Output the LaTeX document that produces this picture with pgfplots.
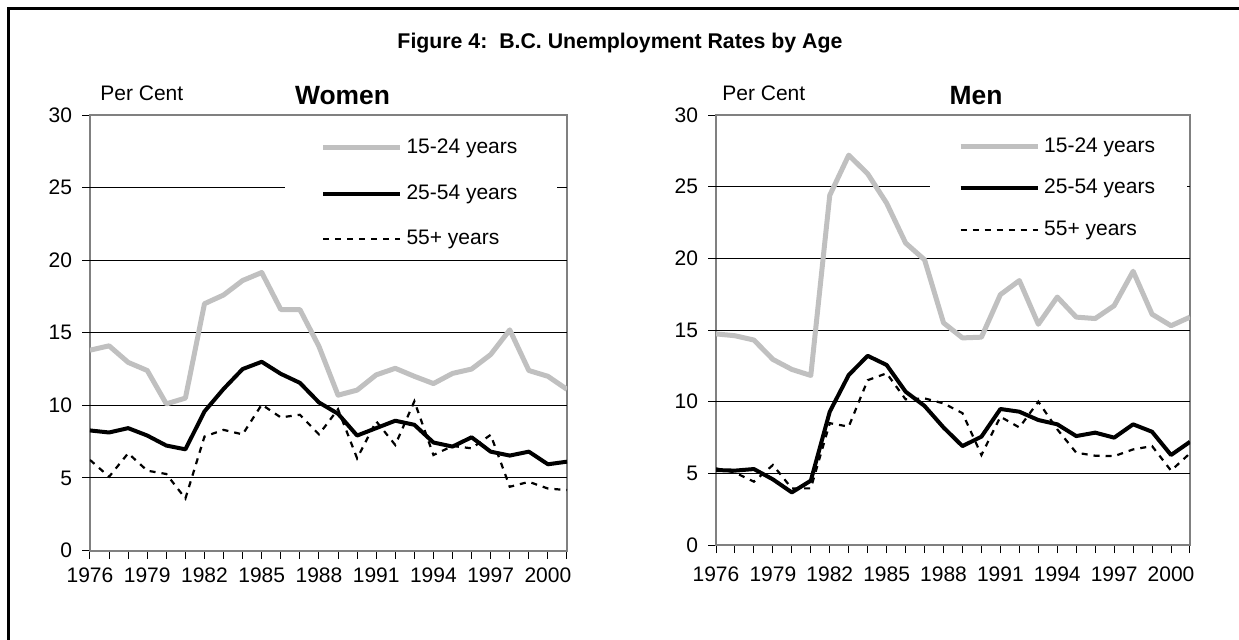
\documentclass[border=0pt]{standalone}
\usepackage{fontspec}
\setmainfont{Liberation Sans}
\usepackage{pgfplots}
\usepackage{pgfplotstable}
\pgfplotsset{compat=1.18}

\definecolor{lgray}{HTML}{C0C0C0}
\definecolor{fgray}{HTML}{808080}

\pgfplotstableread{
year a b c
1976 13.8 8.27 6.24
1977 14.1 8.13 5.08
1978 12.96 8.43 6.7
1979 12.4 7.92 5.5
1980 10.1 7.23 5.27
1981 10.5 6.97 3.58
1982 17.0 9.58 7.85
1983 17.6 11.13 8.31
1984 18.6 12.5 8.0
1985 19.15 13.0 10.05
1986 16.6 12.17 9.17
1987 16.6 11.55 9.35
1988 14.06 10.2 8.0
1989 10.7 9.42 9.73
1990 11.05 7.92 6.35
1991 12.1 8.43 8.9
1992 12.55 8.94 7.27
1993 12.0 8.66 10.28
1994 11.5 7.44 6.58
1995 12.2 7.16 7.2
1996 12.5 7.8 7.04
1997 13.5 6.81 7.97
1998 15.2 6.54 4.39
1999 12.4 6.81 4.73
2000 12.0 5.94 4.27
2001 11.1 6.12 4.16
}\women

\pgfplotstableread{
year a b c
1976 14.73 5.23 5.35
1977 14.6 5.19 5.05
1978 14.3 5.3 4.42
1979 12.95 4.58 5.58
1980 12.25 3.67 3.95
1981 11.83 4.49 3.95
1982 24.4 9.3 8.5
1983 27.2 11.86 8.26
1984 25.9 13.2 11.5
1985 23.85 12.56 11.98
1986 21.07 10.7 10.16
1987 19.9 9.7 10.23
1988 15.5 8.2 9.88
1989 14.45 6.9 9.2
1990 14.5 7.56 6.28
1991 17.47 9.49 8.95
1992 18.45 9.3 8.2
1993 15.4 8.72 10.0
1994 17.3 8.42 8.07
1995 15.9 7.6 6.44
1996 15.8 7.84 6.23
1997 16.7 7.49 6.2
1998 19.1 8.42 6.67
1999 16.1 7.9 6.9
2000 15.3 6.28 5.19
2001 15.9 7.2 6.4
}\men

\pgfplotsset{
  bcstyle/.style={
    scale only axis,
    xmin=1976, xmax=2001, ymin=0, ymax=30,
    xtick={1976,1979,...,2000},
    minor xtick={1976,...,2001},
    ytick={0,5,...,30},
    extra y ticks={5,10,15,20,25},
    extra y tick labels={},
    extra y tick style={grid=major},
    grid style={black, line width=0.5pt},
    tick align=outside,
    xtick pos=bottom, ytick pos=left,
    major tick length=4pt, minor tick length=4pt,
    tick style={black, line width=0.5pt},
    axis line style={fgray, line width=1pt},
    tick label style={font=\fontsize{10.5}{12}\selectfont},
    yticklabel style={xshift=-1.5pt},
    /pgf/number format/assume math mode=true,
    /pgf/number format/1000 sep={},
    legend cell align=left,
    legend style={draw=none, fill=white, font=\fontsize{10.5}{12}\selectfont, anchor=north west},
    legend image code/.code={\draw[##1] (0pt,0pt) -- (38.5pt,0pt);},
  },
  s1/.style={lgray, line width=2.5pt, line join=round},
  s2/.style={black, line width=2pt, line join=round},
  s3/.style={black, line width=1.1pt, dash pattern=on 3pt off 3pt},
}

\begin{document}
\begin{tikzpicture}
\useasboundingbox (0,0) rectangle (619.5pt,-319.5pt);
\clip (0,0) rectangle (619.5pt,-319.5pt);
\draw[black, line width=1.6pt] (4.2pt,-330pt) -- (4.2pt,-4.2pt) -- (630pt,-4.2pt);

\node[font=\bfseries\fontsize{10.65}{12}\selectfont] at (310pt,-21.5pt) {Figure 4:\ \ B.C. Unemployment Rates by Age};
\node[font=\bfseries\fontsize{13.2}{15}\selectfont] at (171.25pt,-48pt) {Women};
\node[font=\bfseries\fontsize{13.2}{15}\selectfont] at (488pt,-48pt) {Men};
\node[font=\fontsize{10.5}{12}\selectfont, anchor=west, inner sep=0pt] at (50pt,-46.5pt) {Per Cent};
\node[font=\fontsize{10.5}{12}\selectfont, anchor=west, inner sep=0pt] at (361pt,-46.5pt) {Per Cent};

\begin{axis}[bcstyle, anchor=south west, at={(45pt,-275.25pt)}, width=238.5pt, height=217.75pt,
  xticklabel style={yshift=-1pt},
  legend style={at={(0.407,0.964)}, inner xsep=18pt, inner ysep=2pt, row sep=10pt}]
\addplot[s1] table[x=year,y=a]{\women};
\addplot[s2] table[x=year,y=b]{\women};
\addplot[s3] table[x=year,y=c]{\women};
\legend{15-24 years, 25-54 years, 55+ years}
\end{axis}

\begin{axis}[bcstyle, anchor=south west, at={(358pt,-272.5pt)}, width=237pt, height=215pt,
  xticklabel style={yshift=-3.5pt},
  legend style={at={(0.451,0.9715)}, inner xsep=14pt, inner ysep=3pt, row sep=8pt}]
\addplot[s1] table[x=year,y=a]{\men};
\addplot[s2] table[x=year,y=b]{\men};
\addplot[s3] table[x=year,y=c]{\men};
\legend{15-24 years, 25-54 years, 55+ years}
\end{axis}
\end{tikzpicture}
\end{document}
